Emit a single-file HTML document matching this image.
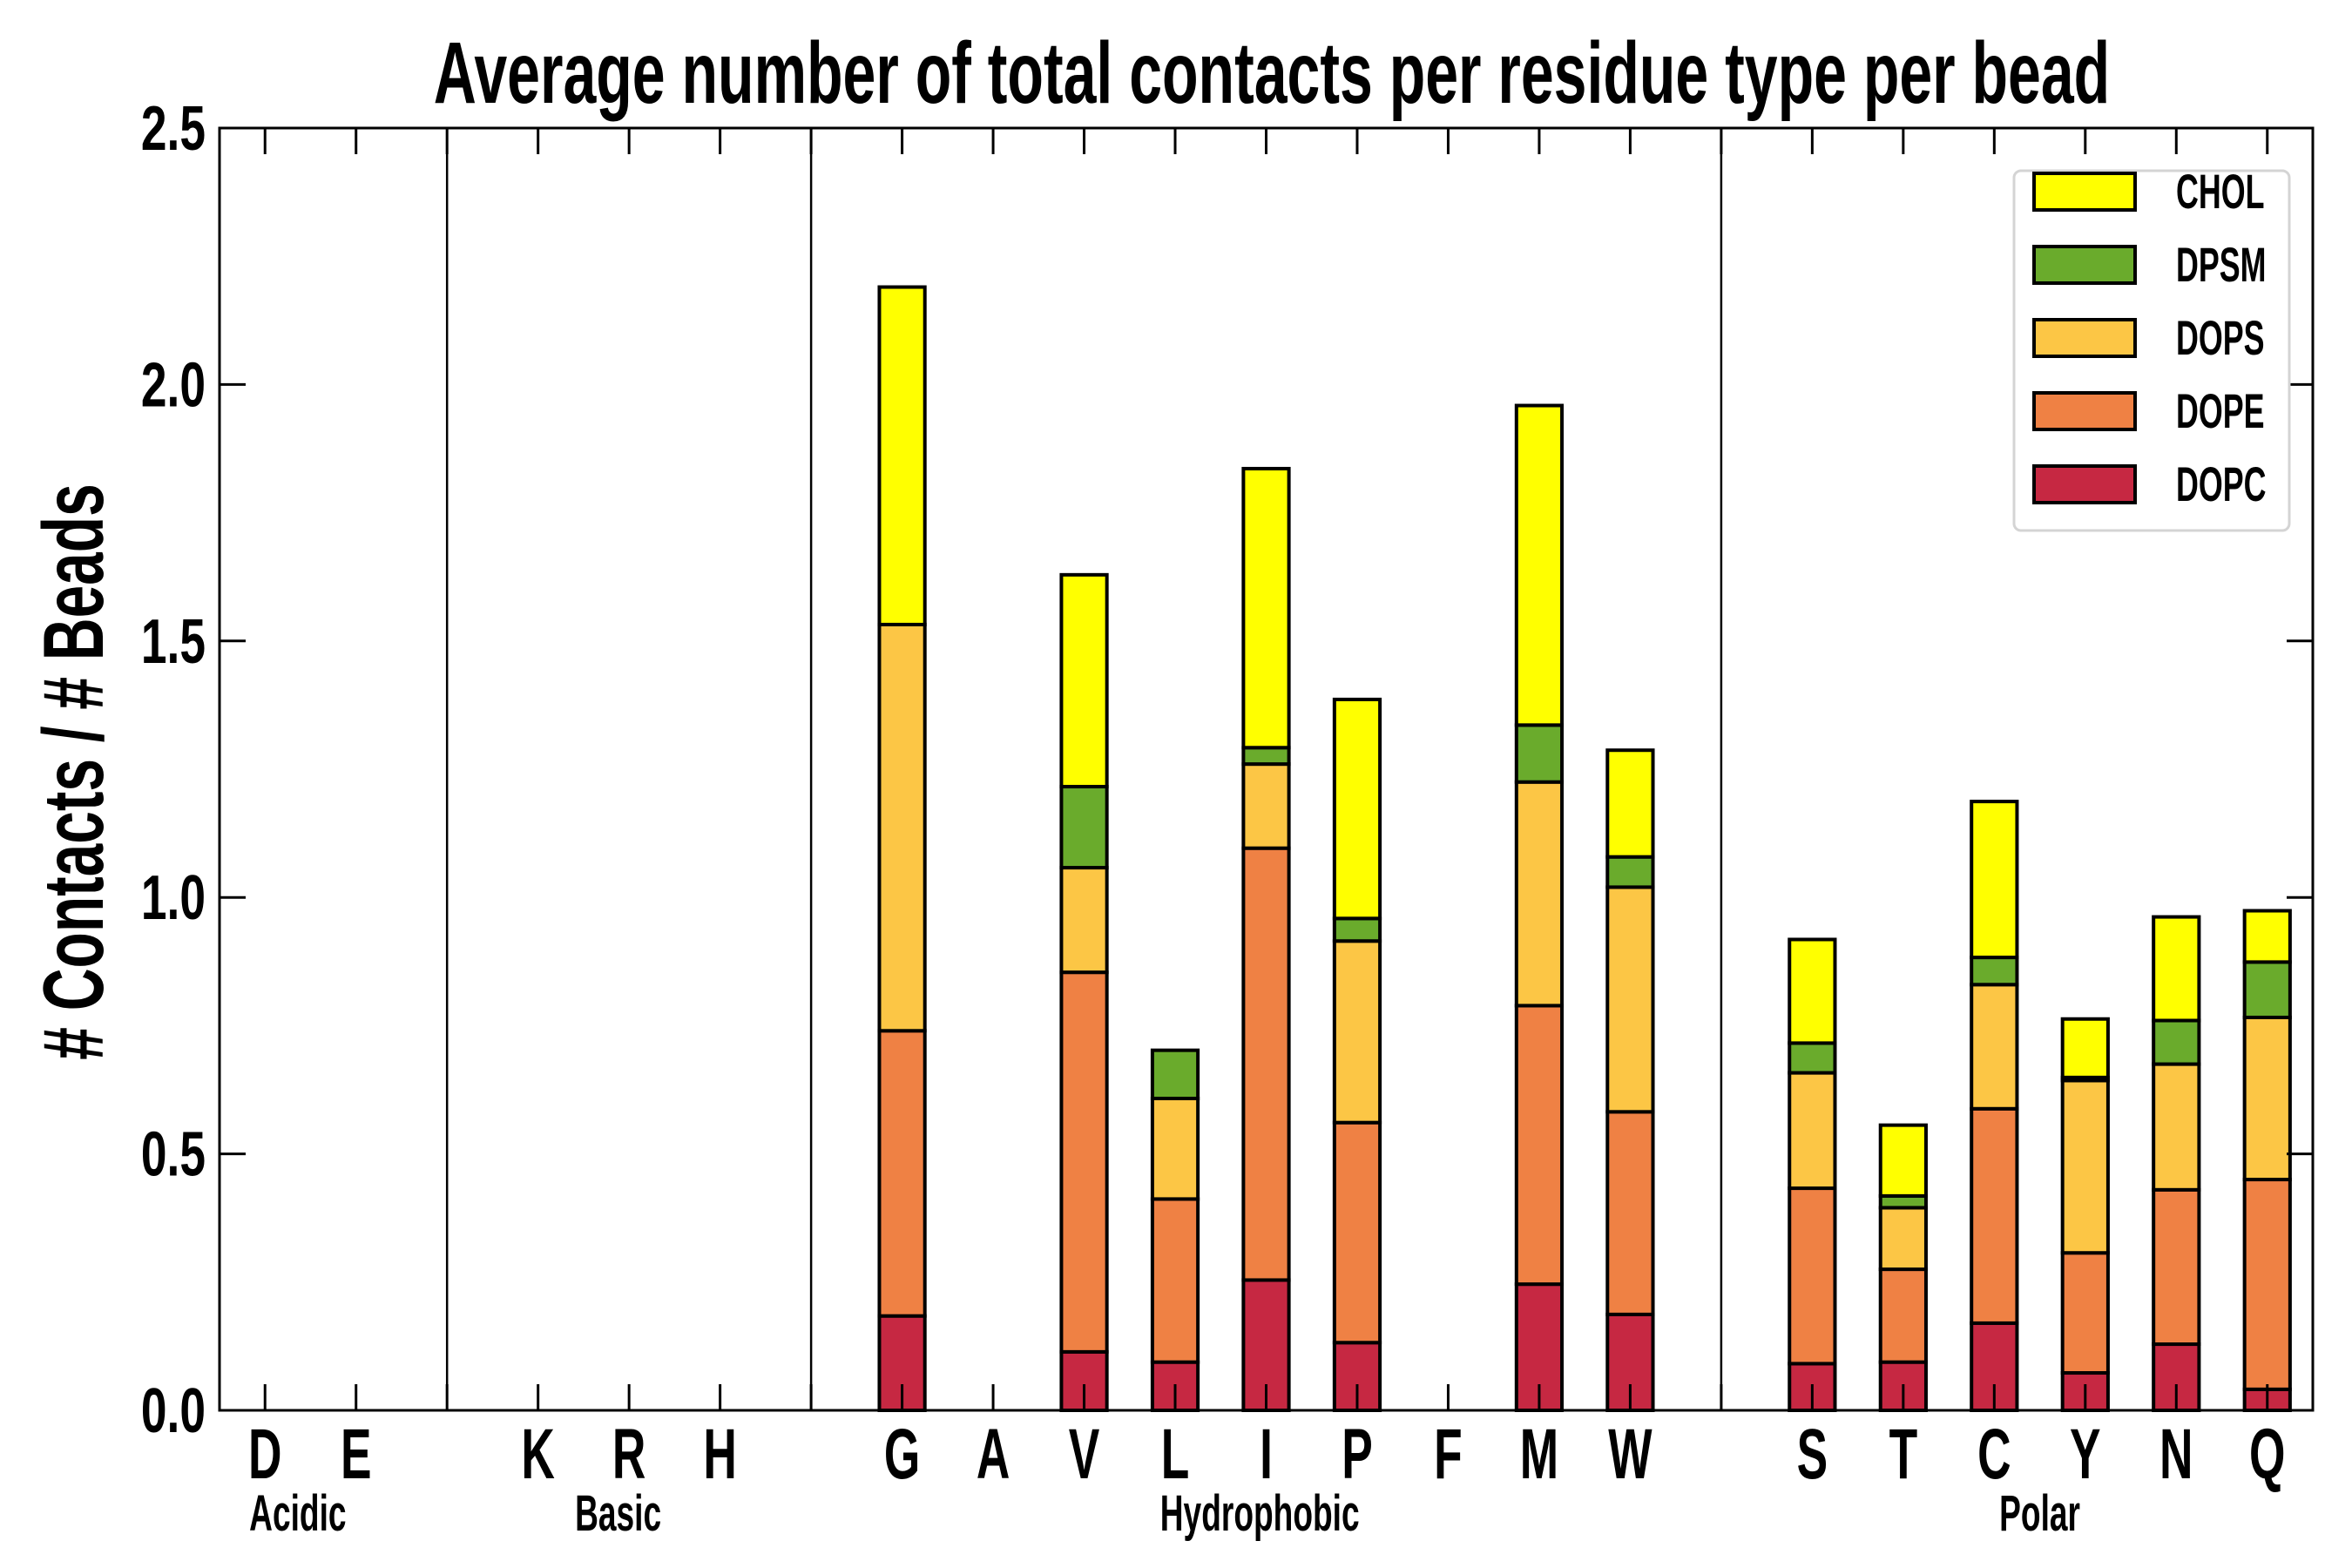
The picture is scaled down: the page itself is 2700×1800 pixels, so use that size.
<!DOCTYPE html>
<html><head><meta charset="utf-8"><style>
html,body{margin:0;padding:0;background:#fff;}
svg{display:block;font-family:"Liberation Sans Narrow","Liberation Sans",sans-serif;font-weight:bold;}
</style></head><body>
<svg id="chart" width="2700" height="1800" viewBox="0 0 2700 1800">
<g id="plot"></g>
</svg>
<script>
const categories = ["D","E","","K","R","H","","G","A","V","L","I","P","F","M","W","","S","T","C","Y","N","Q"];
const dopc = [0,0,0,0,0,0,0,0.184,0,0.114,0.094,0.254,0.132,0,0.246,0.187,0,0.091,0.094,0.170,0.073,0.129,0.041];
const dope = [0,0,0,0,0,0,0,0.556,0,0.740,0.318,0.842,0.429,0,0.543,0.395,0,0.342,0.181,0.418,0.234,0.301,0.409];
const dops = [0,0,0,0,0,0,0,0.792,0,0.204,0.196,0.164,0.354,0,0.436,0.438,0,0.225,0.120,0.242,0.336,0.245,0.316];
const dpsm = [0,0,0,0,0,0,0,0,0,0.158,0.094,0.032,0.044,0,0.111,0.059,0,0.058,0.023,0.053,0.006,0.085,0.108];
const chol = [0,0,0,0,0,0,0,0.658,0,0.413,0,0.544,0.427,0,0.623,0.208,0,0.202,0.138,0.304,0.114,0.202,0.100];
const seriesNames = ["DOPC","DOPE","DOPS","DPSM","CHOL"];
const yTicks = [0,0.5,1,1.5,2,2.5];
const yTickLabels = ["0.0","0.5","1.0","1.5","2.0","2.5"];
const separators = [2,6,16];
const groupNames = ["Acidic","Basic","Hydrophobic","Polar"];
const groupCenters = [0.36,3.88,10.93,19.5];

const NS="http://www.w3.org/2000/svg";
const L=252,R=2655,T=147,B=1619;
const colors={DOPC:"#c62842",DOPE:"#ef8144",DOPS:"#fcc645",DPSM:"#6aab2c",CHOL:"#ffff00"};
const n=categories.length;
const xs=i=>L+(i+0.5)*(R-L)/n;
const ys=v=>B-v*(B-T)/2.5;
const bw=0.5*(R-L)/n;
const g=document.getElementById('plot');
function mk(tag,attrs,parent){const e=document.createElementNS(NS,tag);for(const k in attrs)e.setAttribute(k,attrs[k]);(parent||g).appendChild(e);return e;}
function txt(str,x,y,size,sx,anchor,parent,rot){
  const t=mk('text',{x:0,y:0,'text-anchor':anchor||'middle','font-size':size,
    transform:'translate('+x+','+y+')'+(rot?' rotate('+rot+')':'')+' scale('+sx+',1)'},parent);
  t.textContent=str;return t;
}

separators.forEach(s=>{const l=mk('line',{x1:xs(s),x2:xs(s),y1:T,y2:B,stroke:'#000','stroke-width':2.5});

});

const data={DOPC:dopc,DOPE:dope,DOPS:dops,DPSM:dpsm,CHOL:chol};
for(let i=0;i<n;i++){
  let base=0;
  seriesNames.forEach(s=>{
    const v=data[s][i];
    const r=mk('rect',{x:xs(i)-bw/2,y:ys(base+v),width:bw,height:ys(base)-ys(base+v),fill:colors[s],stroke:'#000','stroke-width':4});
    
    
    base+=v;
  });
}

const f=mk('rect',{x:L,y:T,width:R-L,height:B-T,fill:'none',stroke:'#000','stroke-width':3});



for(let i=0;i<n;i++){
  mk('line',{x1:xs(i),x2:xs(i),y1:T,y2:T+30,stroke:'#000','stroke-width':3});
  mk('line',{x1:xs(i),x2:xs(i),y1:B,y2:B-30,stroke:'#000','stroke-width':3});
  if(categories[i]){
    const t=txt(categories[i],xs(i),1697,82,0.65);
    
    
  }
}
groupNames.forEach((gname,k)=>{
  const t=txt(gname,xs(groupCenters[k]),1757,58,0.64);
  
  
});

yTicks.forEach((v,k)=>{
  mk('line',{x1:L,x2:L+30,y1:ys(v),y2:ys(v),stroke:'#000','stroke-width':3});
  mk('line',{x1:R,x2:R-30,y1:ys(v),y2:ys(v),stroke:'#000','stroke-width':3});
  const t=txt(yTickLabels[k],236,ys(v)+25,72,0.74,'end');
  
  
});

const title=txt("Average number of total contacts per residue type per bead",1460,118,100,0.68);


const yl=txt("# Contacts / # Beads",118,886,98,0.69,'middle',null,-90);



const lg=mk('g',{});


mk('rect',{x:2312,y:196,width:316,height:413,rx:8,fill:'#fff',stroke:'#d4d4d4','stroke-width':3},lg);
const legOrder=["CHOL","DPSM","DOPS","DOPE","DOPC"];
legOrder.forEach((s,k)=>{
  const cy=220+k*84;
  const e=mk('g',{},lg);
  
  
  mk('rect',{x:2335,y:cy-21,width:116,height:42,fill:colors[s],stroke:'#000','stroke-width':4},e);
  txt(s,2498,cy+19,56,0.64,'start',e);
});
</script>
</body></html>
